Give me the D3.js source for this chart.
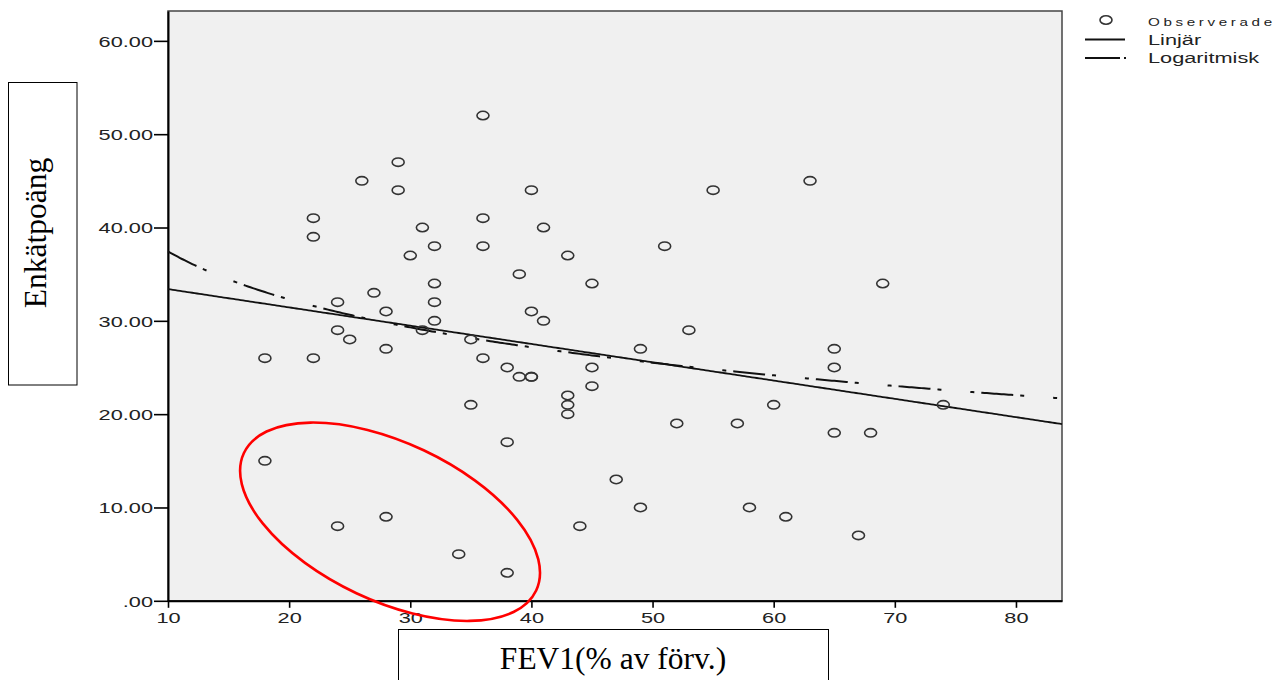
<!DOCTYPE html>
<html>
<head>
<meta charset="utf-8">
<script src="https://cdn.jsdelivr.net/npm/d3@7/dist/d3.min.js"></script>
<style>
  html, body { margin: 0; padding: 0; background: #fff; }
  svg { display: block; }
</style>
</head>
<body>
<svg id="chart" width="1276" height="680"></svg>
<script>
// FEV1 (% of predicted) against questionnaire score
const fev1 = [18,18,22,22,22,24,24,24,25,26,27,28,28,28,29,29,30,31,31,32,32,32,32,34,35,35,
  36,36,36,36,38,38,38,39,39,40,40,40,40,41,41,43,43,43,43,44,45,45,45,47,49,49,51,52,53,55,
  57,58,60,61,63,65,65,65,67,68,69,74];
const score = [26,15,41,39,26,32,29,8,28,45,33,31,27,9,47,44,37,40,29,38,34,32,30,5,28,21,
  52,41,38,26,25,17,3,35,24,44,31,24,24,40,30,37,22,21,20,8,34,25,23,13,27,10,38,19,29,44,
  19,10,21,9,45,27,25,18,7,18,34,21];

// fitted curves: linear y = a + b·x, logarithmic y = a + b·ln(x)
const linearCoef = [35.36, -0.196];
const logCoef = [54.5, -7.41];

const xTicks = [10, 20, 30, 40, 50, 60, 70, 80];
const yTicks = [0, 10, 20, 30, 40, 50, 60];
const yTickLabels = [".00", "10.00", "20.00", "30.00", "40.00", "50.00", "60.00"];
const legendLabels = ["Observerade", "Linjär", "Logaritmisk"];
const xTitle = "FEV1(% av förv.)";
const yTitle = "Enkätpoäng";

// highlighted low-score group (centre in data units)
const highlight = { cx: 28.33, cy: 8.47 };

const svg = d3.select("#chart");
const plot = { left: 168, right: 1062, top: 11, bottom: 600.8 };
const sx = 1.45; // horizontal stretch of the sans labels

const x = d3.scaleLinear().domain([10, 83.8]).range([plot.left, plot.right]);
const y = d3.scaleLinear().domain([0, 63.2]).range([plot.bottom, plot.top]);

// plot background and frame
svg.append("rect")
  .attr("x", plot.left).attr("y", plot.top)
  .attr("width", plot.right - plot.left).attr("height", plot.bottom - plot.top)
  .attr("fill", "#f0f0f0").attr("stroke", "#444").attr("stroke-width", 1.5);

// y axis
const yAxis = svg.append("g")
  .attr("transform", `translate(${plot.left},0)`)
  .call(d3.axisLeft(y).tickValues(yTicks).tickSize(14).tickSizeOuter(0)
    .tickFormat((d, i) => yTickLabels[i]));
yAxis.select(".domain").attr("stroke", "#000").attr("stroke-width", 2);
yAxis.selectAll(".tick line").attr("stroke", "#000").attr("stroke-width", 1.6);
yAxis.selectAll(".tick text")
  .attr("x", -15 / sx).attr("dy", "0.36em")
  .attr("transform", `scale(${sx},1)`)
  .attr("font-family", "Liberation Sans, Arial, sans-serif")
  .attr("font-size", 15).attr("fill", "#222");

// x axis
const xAxis = svg.append("g")
  .attr("transform", `translate(0,${plot.bottom})`)
  .call(d3.axisBottom(x).tickValues(xTicks).tickSize(7).tickSizeOuter(0)
    .tickFormat(d3.format("d")));
xAxis.select(".domain").attr("stroke", "#000").attr("stroke-width", 2);
xAxis.selectAll(".tick line").attr("stroke", "#000").attr("stroke-width", 1.6);
xAxis.selectAll(".tick text")
  .attr("y", 17).attr("dy", "0.36em")
  .each(function () {
    const t = d3.select(this);
    const tx = +t.node().parentNode.getAttribute("transform").match(/translate\(([-\d.]+)/)[1];
    t.attr("transform", `translate(${-tx * (sx - 1) / sx},0)`);
  })
  .attr("font-family", "Liberation Sans, Arial, sans-serif")
  .attr("font-size", 15).attr("fill", "#222");
// stretch x tick labels about their own centres
xAxis.selectAll(".tick text").attr("transform", `scale(${sx},1)`);

// fitted lines
const xs = d3.range(10, 83.8 + 0.001, 0.2);
const line = d3.line().x(d => x(d[0])).y(d => y(d[1]));

svg.append("path")
  .datum(xs.map(v => [v, linearCoef[0] + linearCoef[1] * v]))
  .attr("d", line).attr("fill", "none")
  .attr("stroke", "#111").attr("stroke-width", 1.8);

svg.append("path")
  .datum(xs.map(v => [v, logCoef[0] + logCoef[1] * Math.log(v)]))
  .attr("d", line).attr("fill", "none")
  .attr("stroke", "#111").attr("stroke-width", 2)
  .attr("stroke-dasharray", "32,7,4,29,4,7");

// observations
svg.append("g").selectAll("ellipse")
  .data(fev1.map((v, i) => [v, score[i]]))
  .join("ellipse")
  .attr("cx", d => x(d[0])).attr("cy", d => y(d[1]))
  .attr("rx", 6).attr("ry", 4.2)
  .attr("fill", "none").attr("stroke", "#333").attr("stroke-width", 1.6);

// red ring around the low-score group
svg.append("ellipse")
  .attr("transform", `translate(${x(highlight.cx)},${y(highlight.cy)}) rotate(25.2)`)
  .attr("rx", 161.5).attr("ry", 79)
  .attr("fill", "none").attr("stroke", "#f00").attr("stroke-width", 2.6);

// legend
const lg = svg.append("g");
lg.append("ellipse").attr("cx", 1106).attr("cy", 20).attr("rx", 6).attr("ry", 4.2)
  .attr("fill", "none").attr("stroke", "#333").attr("stroke-width", 1.6);
lg.append("line").attr("x1", 1085).attr("x2", 1125).attr("y1", 39.5).attr("y2", 39.5)
  .attr("stroke", "#111").attr("stroke-width", 1.8);
lg.append("line").attr("x1", 1085).attr("x2", 1128).attr("y1", 58).attr("y2", 58)
  .attr("stroke", "#111").attr("stroke-width", 1.8).attr("stroke-dasharray", "35,4,2,10");
const legendY = [26, 45, 63];
lg.selectAll("text").data(legendLabels).join("text")
  .attr("x", 1148 / sx).attr("y", (d, i) => legendY[i])
  .attr("transform", `scale(${sx},1)`)
  .attr("font-family", "Liberation Sans, Arial, sans-serif")
  .attr("font-size", (d, i) => i === 0 ? 10.5 : 15)
  .attr("letter-spacing", (d, i) => i === 0 ? 2.5 : 0)
  .attr("fill", "#222")
  .text(d => d);

// axis title boxes
svg.append("rect").attr("x", 8.5).attr("y", 82.5).attr("width", 68.5).attr("height", 302.5)
  .attr("fill", "#fff").attr("stroke", "#000").attr("stroke-width", 1);
svg.append("text")
  .attr("transform", "translate(46,233) rotate(-90)")
  .attr("text-anchor", "middle")
  .attr("font-family", "Liberation Serif, 'Times New Roman', serif")
  .attr("font-size", 31.5).attr("fill", "#000")
  .text(yTitle);

svg.append("rect").attr("x", 398.5).attr("y", 629.5).attr("width", 430).attr("height", 70)
  .attr("fill", "#fff").attr("stroke", "#000").attr("stroke-width", 1);
svg.append("text")
  .attr("x", 613).attr("y", 669)
  .attr("text-anchor", "middle")
  .attr("font-family", "Liberation Serif, 'Times New Roman', serif")
  .attr("font-size", 31.5).attr("fill", "#000")
  .text(xTitle);
</script>
</body>
</html>
